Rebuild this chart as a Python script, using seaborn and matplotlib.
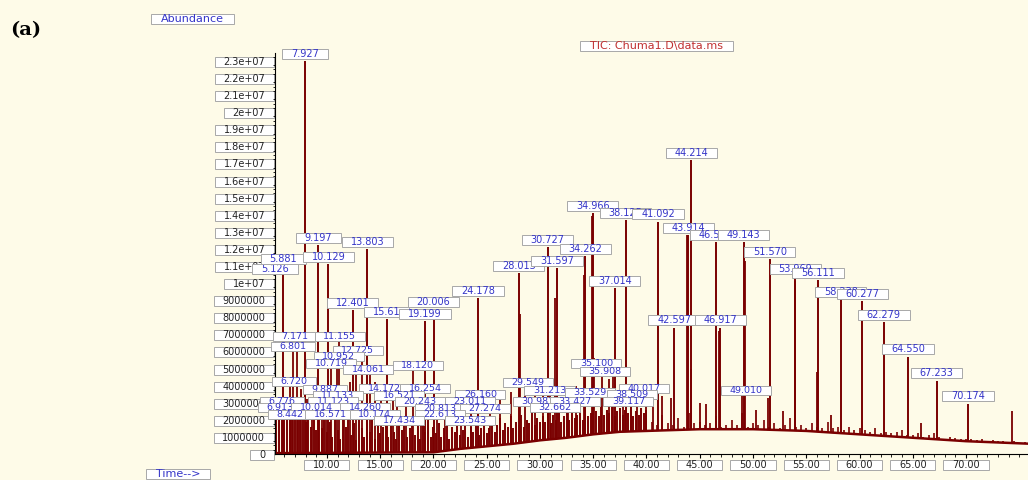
import numpy as np
import matplotlib
matplotlib.use("Agg")
import matplotlib.pyplot as plt
from matplotlib.path import Path
from matplotlib.ticker import MultipleLocator, FuncFormatter
import seaborn as sns

# labelled peaks: retention time (min), abundance (x 1e6), label text
peak_times = [5.126, 5.881, 7.927, 9.197, 10.129, 12.401, 13.803, 15.61, 19.199, 20.006,
              24.178, 28.013, 30.727, 31.597, 34.262, 34.966, 37.014, 38.05, 41.092, 42.597,
              43.914, 44.214, 46.50, 46.917, 49.143, 51.570, 53.969, 56.111, 58.238, 60.277,
              62.279, 64.550, 67.233, 70.174]
peak_heights = [10.4, 11.0, 23.0, 12.2, 11.1, 8.4, 12.0, 7.9, 7.8, 8.5,
                9.1, 10.6, 12.1, 10.9, 11.6, 14.1, 9.7, 13.7, 13.6, 7.4,
                12.8, 17.2, 12.4, 7.4, 12.4, 11.4, 10.4, 10.2, 9.05, 8.95,
                7.7, 5.7, 4.3, 2.95]
peak_labels = ["5.126", "5.881", "7.927", "9.197", "10.129", "12.401", "13.803", "15.61", "19.199", "20.006",
               "24.178", "28.013", "30.727", "31.597", "34.262", "34.966", "37.014", "38.125", "41.092", "42.597",
               "43.914", "44.214", "46.512", "46.917", "49.143", "51.570", "53.969", "56.111", "58.238", "60.277",
               "62.279", "64.550", "67.233", "70.174"]

# shoulders and smaller unlabelled peaks
minor_times = [6.55, 6.80, 7.17, 7.6, 8.1, 8.6, 9.5, 9.9, 10.4, 10.95, 11.16, 11.6, 12.2, 12.72,
               13.3, 14.06, 14.5, 15.1, 16.2, 16.6, 17.4, 18.12, 18.8, 20.3, 21.1, 22.6, 23.5,
               25.3, 26.2, 27.3, 28.1, 28.55, 29.5, 30.3, 30.98, 31.45, 32.6, 33.4, 34.1, 34.9,
               35.10, 35.85, 36.5, 36.9, 37.8, 38.5, 39.1, 40.0, 40.6, 41.5, 42.3, 43.85, 44.15,
               45.0, 45.6, 46.85, 49.01, 49.25, 50.3, 51.4, 52.8, 53.9, 56.0, 57.3, 65.8, 74.35]
minor_heights = [4.5, 6.1, 7.0, 3.8, 3.2, 3.0, 3.6, 4.0, 5.2, 5.6, 6.7, 3.5, 4.2, 5.8,
                 5.5, 4.8, 4.2, 3.6, 3.9, 4.1, 3.4, 5.0, 3.3, 3.1, 3.0, 2.9, 3.4,
                 3.1, 3.3, 3.6, 8.2, 4.3, 3.8, 3.9, 3.7, 9.1, 3.8, 4.0, 10.5, 13.9,
                 5.6, 5.0, 4.4, 4.6, 4.0, 3.8, 3.6, 3.7, 3.2, 3.4, 3.3, 12.8, 5.0,
                 3.0, 2.9, 7.2, 3.8, 11.3, 2.6, 3.3, 2.5, 10.1, 4.8, 2.3, 1.8, 2.5]

# noise tops: 0.25 min steps 5.25-40, then 0.5 min steps 40.5-76 (x 1e6)
noise_fine = [2.3, 2.4, 2.4, 2.3, 2.4, 2.2, 2.4, 2.3, 2.1, 2.4, 2.2, 1.9, 2.3, 1.6, 2.1, 1.4, 2.4, 1.5, 2.0, 1.3,
              1.9, 1.0, 2.2, 1.4, 0.9, 2.0, 1.6, 2.3, 1.1, 1.8, 0.8, 2.1, 1.5, 1.0, 2.0, 1.3, 2.2, 0.9, 1.7, 1.2,
              1.6, 2.1, 1.0, 1.9, 1.3, 0.9, 2.2, 1.4, 1.8, 1.0, 1.5, 2.0, 1.1, 1.7, 0.9, 1.9, 1.3, 2.1, 1.0, 1.6,
              1.2, 1.8, 1.0, 1.5, 2.0, 0.9, 1.6, 1.3, 1.9, 1.1, 1.4, 1.8, 1.0, 1.6, 1.3, 2.0, 1.1, 1.5, 1.7, 1.2,
              1.5, 1.9, 1.3, 1.7, 2.1, 1.4, 1.8, 1.6, 2.2, 1.5, 1.9, 1.7, 2.3, 1.6, 2.0, 1.8, 2.4, 1.7, 2.1, 1.9,
              2.2, 1.9, 2.5, 1.8, 2.3, 2.0, 2.6, 1.9, 2.2, 2.4, 2.0, 2.7, 2.1, 2.3, 2.5, 2.0, 2.6, 2.2, 2.4, 2.1,
              2.5, 2.2, 2.8, 2.3, 2.6, 2.4, 2.9, 2.2, 2.5, 2.7, 2.3, 2.6, 2.4, 2.8, 2.2, 2.5, 2.3, 2.7, 2.4, 2.6]
noise_coarse = [1.9, 1.7, 2.3, 1.8, 1.7, 2.1, 1.6, 2.4, 1.8, 1.9, 1.7, 1.8, 2.2, 1.6, 1.7, 2.0, 1.7, 2.4, 1.6, 1.8,
                1.7, 2.0, 1.6, 1.8, 1.5, 1.7, 2.1, 1.6, 1.7, 1.5, 1.8, 1.6, 1.5, 1.9, 1.5, 1.6, 1.4, 1.6, 1.4, 1.5,
                1.4, 1.3, 1.5, 1.2, 1.3, 1.2, 1.3, 1.4, 1.1, 1.1, 1.2, 1.0, 1.1, 1.2, 1.0, 0.9, 1.0, 0.95, 0.85, 0.9,
                0.85, 0.8, 0.85, 0.75, 0.8, 0.75, 0.75, 0.7, 0.75, 0.65, 0.7, 0.65]

# baseline level under the noise (x 1e6)
base_times = [5, 20, 22.5, 25, 27.5, 30, 32.5, 35, 37.5, 40, 45, 50, 55, 60, 65, 70, 76]
base_levels = [0.05, 0.1, 0.3, 0.45, 0.6, 0.8, 0.95, 1.15, 1.3, 1.35, 1.45, 1.45, 1.35, 1.15, 0.95, 0.75, 0.6]

# labels piled up in the clutter near the baseline: text, time (min), abundance (x 1e6)
crowd_labels = ["7.171", "11.155", "6.801", "12.725", "10.952", "10.719", "14.061", "18.120", "6.720",
                "9.887", "14.172", "16.254", "26.160", "11.133", "16.521", "6.776", "11.123", "20.243",
                "23.011", "6.913", "10.014", "14.260", "20.813", "27.274", "8.442", "16.571", "10.174",
                "22.613", "17.434", "23.543", "29.549", "35.100", "35.908", "40.017", "31.213", "33.529",
                "38.509", "30.981", "33.427", "39.117", "32.662", "49.010"]
crowd_times = [7.0, 11.2, 6.8, 12.9, 11.1, 10.4, 13.85, 18.5, 6.9,
               9.8, 15.4, 19.2, 24.4, 11.0, 16.8, 5.8, 10.6, 18.7,
               23.4, 5.6, 9.0, 13.6, 20.6, 24.8, 6.5, 10.3, 14.5,
               20.6, 16.8, 23.4, 28.9, 35.3, 36.1, 39.8, 30.9, 34.7,
               38.6, 29.8, 33.3, 38.3, 31.4, 49.3]
crowd_levels = [6.9, 6.85, 6.26, 6.03, 5.68, 5.27, 4.97, 5.15, 4.27,
                3.8, 3.86, 3.86, 3.5, 3.45, 3.45, 3.05, 3.05, 3.05,
                3.1, 2.7, 2.7, 2.7, 2.65, 2.65, 2.3, 2.3, 2.3,
                2.3, 1.95, 1.95, 4.2, 5.3, 4.85, 3.85, 3.7, 3.6,
                3.5, 3.1, 3.1, 3.1, 2.7, 3.7]

BG = "#fefbe8"
TRACE = "#7a0000"
BLUE = "#3434c8"
SCALE = 1e6


def chem_box(x0, y0, width, height, mutation_size):
    # flat, wide label box like the ChemStation print-out
    px = 0.9 * mutation_size
    x1, y1 = x0 + width + px, y0 + height
    x0 = x0 - px
    return Path([(x0, y0), (x1, y0), (x1, y1), (x0, y1), (x0, y0)], closed=True)


box_kw = dict(boxstyle=chem_box, fc="white", ec="#a8a8a8", lw=0.7)

sns.set_theme(style="ticks")
plt.rcParams["font.family"] = ["DejaVu Sans"]

fig = plt.figure(figsize=(10.28, 4.8), dpi=100, facecolor=BG)
ax = fig.add_axes([275 / 1028, 26 / 480, 753 / 1028, 401 / 480])
ax.set_facecolor(BG)

# noise spikes
fine_t = np.arange(5.25, 40.01, 0.25)
coarse_t = np.arange(40.5, 76.01, 0.5)
ax.vlines(fine_t, 0, np.array(noise_fine) * SCALE, color=TRACE, lw=1.4, zorder=1)
ax.vlines(coarse_t, 0, np.array(noise_coarse) * SCALE, color=TRACE, lw=1.2, zorder=1)

# peaks
ax.vlines(minor_times, 0, np.array(minor_heights) * SCALE, color=TRACE, lw=1.3, zorder=1)
ax.vlines(peak_times, 0, np.array(peak_heights) * SCALE, color=TRACE, lw=1.4, zorder=1)

# blank out below the baseline, then draw the baseline itself
base_y = np.array(base_levels) * SCALE
ax.fill_between(base_times, 0, base_y, color=BG, lw=0, zorder=2)
sns.lineplot(x=base_times, y=base_y, color=TRACE, lw=1.8, ax=ax, zorder=3)

# peak labels, later peaks drawn on top
for i, (t, h, lab) in enumerate(zip(peak_times, peak_heights, peak_labels)):
    ax.annotate(lab, (t, h * SCALE), xytext=(0, 1.5), textcoords="offset points",
                ha="center", va="bottom", fontsize=7, color=BLUE, bbox=box_kw,
                annotation_clip=False, zorder=10 + i)

for i, (lab, t, a) in enumerate(zip(crowd_labels, crowd_times, crowd_levels)):
    ax.text(t, a * SCALE, lab, ha="center", va="center", fontsize=6.8, color=BLUE,
            bbox=box_kw, zorder=6 + i * 0.01)

# axes
ax.set_xlim(5.12, 75.82)
ax.set_ylim(0, 23.46e6)
ax.set_xticks(np.arange(10, 71, 5))
ax.xaxis.set_minor_locator(MultipleLocator(1))
ax.set_yticks(np.arange(0, 23.1e6, 1e6))
ax.yaxis.set_minor_locator(MultipleLocator(2.5e5))
ax.xaxis.set_major_formatter(FuncFormatter(lambda v, p: f"{v:.2f}"))
ax.yaxis.set_major_formatter(FuncFormatter(lambda v, p: f"{v:g}" if v >= 1e7 else f"{int(round(v))}"))

for side in ["top", "right"]:
    ax.spines[side].set_visible(False)
for side in ["left", "bottom"]:
    ax.spines[side].set_color("black")
    ax.spines[side].set_linewidth(0.8)
    ax.spines[side].set_zorder(4)

ax.tick_params(axis="both", which="major", direction="out", length=3, width=0.8,
               colors="black", labelsize=7, labelcolor="#222222")
ax.tick_params(axis="both", which="minor", direction="out", length=1.8, width=0.6, colors="black")
ax.tick_params(axis="y", which="major", pad=4)
ax.tick_params(axis="x", which="major", pad=1.5)

for tick in ax.yaxis.get_major_ticks() + ax.xaxis.get_major_ticks():
    tick.label1.set_bbox(box_kw)

fig.text(192 / 1028, 1 - 19 / 480, "Abundance", ha="center", va="center",
         fontsize=8, color=BLUE, bbox=box_kw)
fig.text(178 / 1028, 1 - 474 / 480, "Time-->", ha="center", va="center",
         fontsize=8, color=BLUE, bbox=box_kw)
fig.text(656 / 1028, 1 - 46 / 480, "TIC: Chuma1.D\\data.ms", ha="center", va="center",
         fontsize=8, color="#c03030", bbox=box_kw)
fig.text(10 / 1028, 1 - 30 / 480, "(a)", ha="left", va="center",
         fontsize=14, fontweight="bold", family="DejaVu Serif", color="black")

fig.savefig("out.png", dpi=100, facecolor=BG)
